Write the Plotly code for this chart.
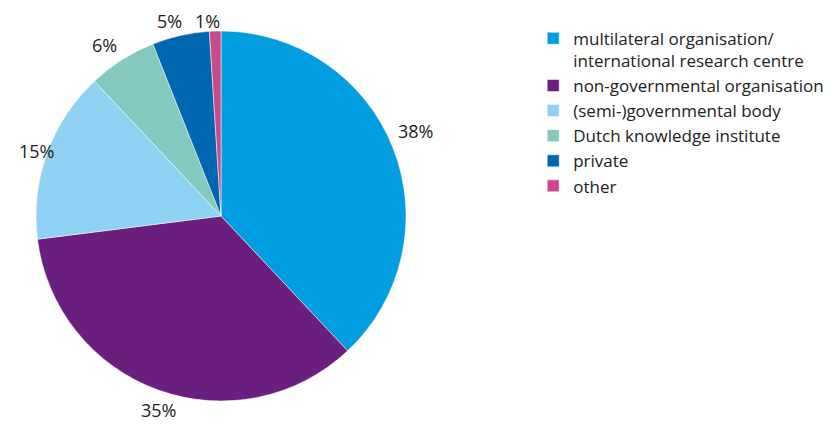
import math
import plotly.graph_objects as go

categories = ["multilateral organisation/<br>international research centre",
              "non-governmental organisation",
              "(semi-)governmental body",
              "Dutch knowledge institute",
              "private",
              "other"]
values = [38, 35, 15, 6, 5, 1]
labels_text = ["38%", "35%", "15%", "6%", "5%", "1%"]
colors = ["#009ee0", "#6a1f7f", "#8fd1f3", "#84c8be", "#0066b0", "#c94a88"]

W, H = 839, 424
CX, CY, R = 213, 208, 185
FONT = "Open Sans, Lato, sans-serif"
LABEL_SIZE = 18

fig = go.Figure(go.Pie(
    labels=categories, values=values,
    textinfo="none",
    sort=False, direction="clockwise", rotation=0,
    marker=dict(colors=colors, line=dict(color="white", width=0.5)),
    domain=dict(x=[(CX - R) / W, (CX + R) / W], y=[1 - (CY + R) / H, 1 - (CY - R) / H]),
    hoverinfo="label+percent",
))

total = sum(values)
cum = 0
annotations = []
for v, t in zip(values, labels_text):
    mid = (cum + v / 2) / total * 2 * math.pi - math.radians(2)
    cum += v
    d = R + 14 + 14 * abs(math.sin(mid))
    px = CX + d * math.sin(mid)
    py = CY - d * math.cos(mid)
    half_w = len(t) * LABEL_SIZE * 0.5
    px = max(px, half_w + 1)
    py = max(py, LABEL_SIZE * 0.72)
    annotations.append(dict(x=px / W, y=1 - py / H, xref="paper", yref="paper",
                            text=t, showarrow=False, xanchor="center", yanchor="middle",
                            font=dict(family=FONT, size=LABEL_SIZE, color="#222222")))

fig.update_layout(
    width=W, height=H,
    margin=dict(l=0, r=0, t=0, b=0),
    paper_bgcolor="white",
    font=dict(family=FONT, color="#222222"),
    annotations=annotations,
    legend=dict(x=0.626, y=0.97, xanchor="left", yanchor="top",
                font=dict(family=FONT, size=17, color="#222222"),
                itemwidth=30, tracegroupgap=0, valign="top"),
    showlegend=True,
)
fig.write_html("out.html")
